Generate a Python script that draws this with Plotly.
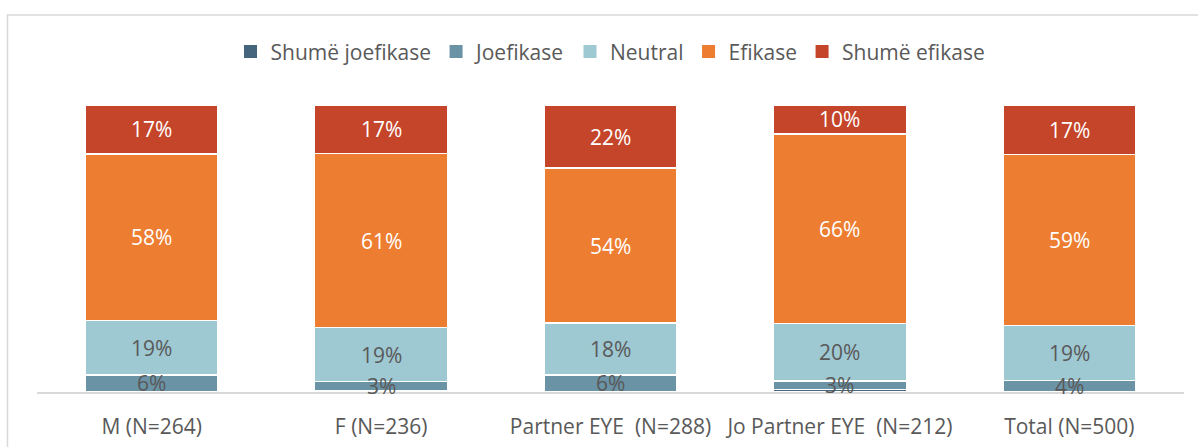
import plotly.graph_objects as go

categories = ["M (N=264)", "F (N=236)", "Partner EYE\u00a0 (N=288)",
              "Jo Partner EYE\u00a0 (N=212)", "Total (N=500)"]

series_names = ["Shumë joefikase", "Joefikase", "Neutral", "Efikase", "Shumë efikase"]
shume_joefikase = [0, 0.6, 0, 0.8, 0]
joefikase = [6, 3, 6, 3, 4]
neutral = [19, 19, 18, 20, 19]
efikase = [58, 61, 54, 66, 59]
shume_efikase = [17, 17, 22, 10, 17]

colors = ["#45657c", "#6a93a6", "#9ec8d2", "#ed7d31", "#c5452a"]
label_colors = ["#595959", "#595959", "#595959", "#ffffff", "#ffffff"]
all_values = [shume_joefikase, joefikase, neutral, efikase, shume_efikase]

FONT = "'Open Sans', Lato, sans-serif"
FS = 21

fig = go.Figure()
for name, vals, col in zip(series_names, all_values, colors):
    fig.add_trace(go.Bar(
        name=name, x=categories, y=vals, showlegend=False, legendgroup=name,
        marker=dict(color=col, line=dict(color="white", width=1.5)),
        hoverinfo="skip",
    ))

# legend entries drawn as solid squares
for name, col in zip(series_names, colors):
    fig.add_trace(go.Scatter(
        name=name, x=[None], y=[None], mode="markers", legendgroup=name,
        marker=dict(symbol="square", size=13, color=col), hoverinfo="skip",
    ))

# value labels centred on each segment (positions in normalised percent)
totals = [sum(col) for col in zip(*all_values)]
annotations = []
for i, cat in enumerate(categories):
    base = 0.0
    for vals, lcol in zip(all_values, label_colors):
        h = vals[i] / totals[i] * 100
        if vals[i] >= 2:
            annotations.append(dict(
                x=cat, y=base + h / 2, xref="x", yref="y",
                text=f"{vals[i]:.0f}%", showarrow=False,
                font=dict(family=FONT, size=FS, color=lcol),
            ))
        base += h

fig.update_layout(
    barmode="stack", barnorm="percent", bargap=0.42,
    width=1198, height=447,
    margin=dict(l=37, r=14, t=105, b=55),
    paper_bgcolor="white", plot_bgcolor="white",
    font=dict(family=FONT, size=FS, color="#595959"),
    annotations=annotations,
    legend=dict(orientation="h", x=0.5, xanchor="center", y=1.185, yanchor="middle",
                font=dict(size=FS, color="#595959"), itemwidth=30, traceorder="normal",
                tracegroupgap=0),
    xaxis=dict(showline=True, linecolor="#d9d9d9", linewidth=2, ticks="",
               tickfont=dict(size=FS, color="#595959"), ticklabelstandoff=15,
               showgrid=False, fixedrange=True, automargin=False),
    yaxis=dict(range=[0, 100], visible=False, showgrid=False, fixedrange=True,
               automargin=False),
    shapes=[dict(type="rect", xref="paper", yref="paper",
                 x0=-0.0257, x1=1.05, y0=-0.3, y1=1.3136,
                 line=dict(color="#d9d9d9", width=1.5), fillcolor="rgba(0,0,0,0)",
                 layer="below")],
)

fig.write_html("out.html")
